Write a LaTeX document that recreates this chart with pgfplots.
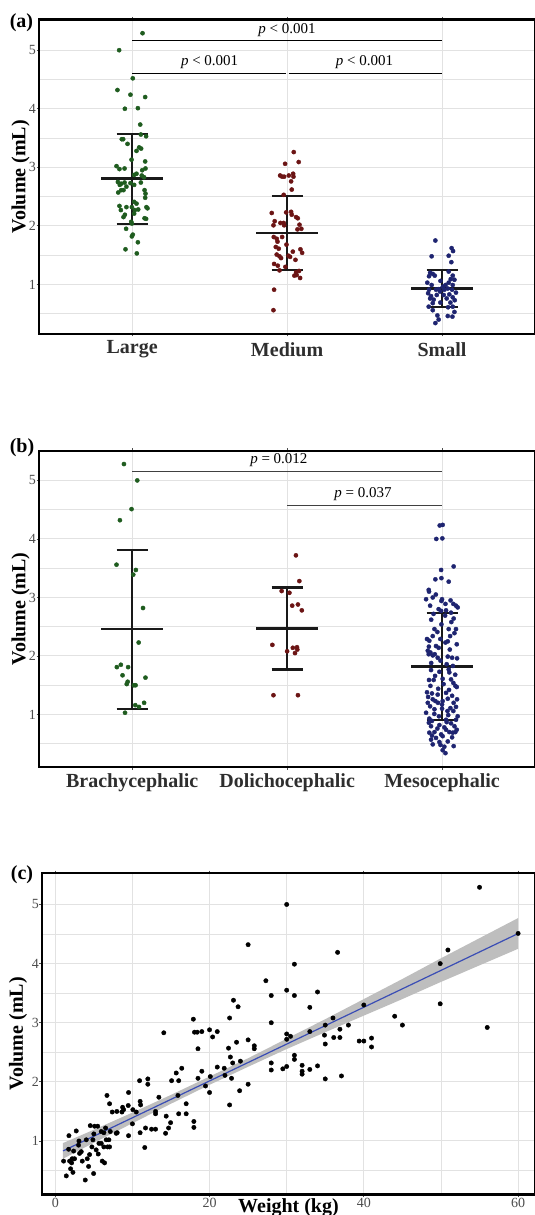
\documentclass[border=0pt]{standalone}
\usepackage{fontspec}
\setmainfont{Liberation Serif}
\usepackage{pgfplots}
\pgfplotsset{compat=1.18}

\definecolor{lgreen}{HTML}{1F5C1F}
\definecolor{mred}{HTML}{6B1414}
\definecolor{snavy}{HTML}{1E2470}
\definecolor{gridc}{HTML}{E2E2E2}
\definecolor{tickc}{HTML}{4D4D4D}
\definecolor{labc}{HTML}{2E2E2E}
\definecolor{fitblue}{HTML}{3A4DB5}
\definecolor{bandc}{HTML}{BEBEBE}

\newcommand\fs[1]{\fontsize{#1}{#1}\selectfont}

\pgfplotsset{
  vbase/.style={
    scale only axis, anchor=north west,
    axis line style={black, line width=2.4pt},
    grid=both,
    major grid style={gridc, line width=1pt},
    minor grid style={gridc, line width=0.8pt},
    tick style={tickc, line width=0.8pt},
    major tick length=2.5pt, minor tick length=0pt,
    tick align=outside,
    ytick={1,2,3,4,5},
    minor ytick={0.5,1.5,2.5,3.5,4.5},
    /pgf/number format/assume math mode=true,
    yticklabel style={font=\fs{14}, text=tickc, inner sep=0.5pt},
    ylabel={Volume (mL)},
    ylabel style={at={(axis description cs:0,0.5)}, anchor=center, yshift=18.7pt, font=\bfseries\fs{20}},
  },
  catstyle/.style={vbase, width=495.8pt, xmin=0.4, xmax=3.6, xtick={1,2,3},
    xticklabel style={font=\bfseries\fs{20}, text=labc, anchor=center, yshift=-13pt}},
  dots/.style={only marks, mark=*, mark size=2.1pt, color=#1},
  errb/.style={black!90, line width=2.2pt, unbounded coords=jump},
}

\begin{document}
\begin{tikzpicture}
\path[use as bounding box] (0,0) rectangle (535pt,-1215pt);

% ---------------- (a) size ----------------
\begin{axis}[catstyle, at={(39.2pt,-19.4pt)}, height=314.5pt,
  ymin=0.155, ymax=5.526, xticklabels={Large,Medium,Small}]
\addplot[dots=lgreen] coordinates {
(1.067,5.29) (0.916,5.00) (1.004,4.52) (0.905,4.32) (0.989,4.24) (1.084,4.20) (0.953,4.00) (1.037,4.01)
(1.052,3.73) (1.056,3.56) (1.090,3.53) (0.933,3.48) (0.942,3.48) (0.970,3.40) (1.045,3.34) (1.058,3.32)
(1.028,3.28) (0.996,3.13) (0.899,3.02) (0.918,2.97) (0.951,2.98) (1.084,3.10) (1.086,2.98) (1.065,2.95)
(1.028,2.89) (1.013,2.87) (1.062,2.86) (1.077,2.83) (0.908,2.75) (0.929,2.72) (0.951,2.74) (0.920,2.70)
(0.963,2.67) (0.989,2.73) (1.013,2.70) (1.056,2.74) (0.944,2.61) (0.910,2.57) (0.929,2.61) (1.080,2.61)
(1.086,2.55) (1.084,2.48) (1.013,2.41) (1.028,2.38) (0.918,2.34) (0.963,2.32) (0.998,2.32) (0.927,2.27)
(1.092,2.32) (1.099,2.30) (0.953,2.19) (0.944,2.15) (1.017,2.27) (1.039,2.28) (1.013,2.21) (1.080,2.13)
(1.090,2.12) (0.994,2.07) (0.998,2.04) (0.961,1.95) (1.004,1.85) (0.998,1.82) (1.037,1.72) (0.957,1.60)
(1.030,1.53)};
\addplot[dots=mred] coordinates {
(2.043,3.26) (2.075,3.09) (1.987,3.06) (1.955,2.86) (1.968,2.84) (1.981,2.84) (2.011,2.86) (2.039,2.89)
(2.041,2.84) (2.026,2.76) (2.030,2.62) (1.978,2.53) (1.901,2.22) (1.994,2.23) (2.026,2.24) (2.030,2.19)
(2.058,2.15) (2.069,2.13) (1.920,2.08) (1.912,2.01) (1.957,2.05) (1.978,2.05) (1.981,2.01) (2.080,2.02)
(2.067,1.94) (2.092,1.95) (1.914,1.81) (1.933,1.78) (1.968,1.81) (1.938,1.73) (1.996,1.68) (1.927,1.64)
(1.946,1.61) (2.086,1.60) (2.037,1.56) (2.097,1.54) (1.933,1.51) (1.951,1.48) (2.009,1.49) (1.961,1.45)
(2.019,1.47) (2.054,1.42) (1.916,1.35) (1.940,1.32) (1.989,1.30) (1.951,1.24) (2.077,1.23) (2.058,1.21)
(2.047,1.15) (2.062,1.16) (2.084,1.11) (1.916,0.91) (1.912,0.56)};
\addplot[dots=snavy] coordinates {
(2.957,1.75) (3.062,1.62) (3.071,1.57) (2.933,1.48) (3.043,1.49) (3.060,1.38) (2.923,1.20) (2.940,1.18)
(2.916,1.14) (2.953,1.15) (3.043,1.22) (3.069,1.15) (3.056,1.09) (3.080,1.08) (2.933,0.99) (3.022,0.99)
(3.043,1.03) (3.069,0.99) (2.916,0.91) (2.961,0.91) (2.978,0.92) (2.987,0.88) (3.015,0.91) (3.037,0.93)
(3.065,0.91) (2.910,0.85) (2.929,0.80) (2.966,0.82) (3.011,0.82) (3.047,0.83) (2.923,0.76) (2.946,0.74)
(3.030,0.76) (3.069,0.78) (3.082,0.73) (2.940,0.68) (2.989,0.69) (3.054,0.69) (2.914,0.62) (3.039,0.61)
(3.069,0.62) (3.080,0.53) (2.970,0.47) (3.037,0.46) (3.067,0.45) (2.978,0.40) (2.957,0.34) (2.905,1.03)
(2.990,1.06) (3.090,0.86) (2.940,0.56) (3.005,0.96)};
% mean and SD bars
\addplot[errb] table {
x y
0.8 2.81
1.2 2.81
nan nan
0.9 3.57
1.1 3.57
nan nan
0.9 2.03
1.1 2.03
nan nan
1 2.03
1 3.57
nan nan
1.8 1.88
2.2 1.88
nan nan
1.9 2.51
2.1 2.51
nan nan
1.9 1.25
2.1 1.25
nan nan
2 1.25
2 2.51
nan nan
2.8 0.93
3.2 0.93
nan nan
2.9 1.25
3.1 1.25
nan nan
2.9 0.61
3.1 0.61
nan nan
3 0.61
3 1.25
};
% significance brackets
\addplot[black, line width=1.4pt] coordinates {(1,5.17) (3,5.17)};
\addplot[black, line width=1.4pt] coordinates {(1,4.60) (1.99,4.60)};
\addplot[black, line width=1.4pt] coordinates {(2.01,4.60) (3,4.60)};
\node[font=\fs{15}] at (axis cs:2,5.345) {\textit{p} < 0.001};
\node[font=\fs{15}] at (axis cs:1.5,4.80) {\textit{p} < 0.001};
\node[font=\fs{15}] at (axis cs:2.5,4.80) {\textit{p} < 0.001};
\end{axis}

% ---------------- (b) head shape ----------------
\begin{axis}[catstyle, at={(39.2pt,-450.8pt)}, height=316.2pt,
  ymin=0.103, ymax=5.506, xticklabels={Brachycephalic,Dolichocephalic,Mesocephalic}]
\addplot[dots=lgreen] coordinates {
(0.947,5.28) (1.033,5.00) (0.996,4.51) (0.921,4.32) (0.899,3.56) (1.024,3.47) (1.007,3.39) (1.070,2.82)
(1.042,2.23) (0.901,1.81) (0.927,1.85) (0.974,1.81) (0.938,1.67) (1.086,1.63) (0.971,1.56) (0.965,1.52)
(1.011,1.50) (1.022,1.50) (1.020,1.16) (1.077,1.20) (1.044,1.13) (0.954,1.03)};
\addplot[dots=mred] coordinates {
(2.057,3.72) (2.079,3.28) (1.965,3.11) (2.015,3.08) (2.033,2.86) (2.070,2.88) (2.095,2.78) (1.905,2.19)
(2.000,2.08) (2.037,2.14) (2.064,2.15) (2.066,2.11) (2.051,2.05) (1.912,1.33) (2.070,1.33)};
\addplot[dots=snavy] coordinates {
(2.985,4.23) (3.004,4.24) (2.963,4.00) (3.002,4.01) (3.075,3.53) (2.994,3.47) (2.957,3.31) (2.996,3.33)
(3.043,3.27) (2.914,3.13) (2.916,3.10) (2.897,2.97) (2.940,3.00) (3.000,2.97) (2.996,2.94) (3.022,2.89)
(3.073,2.89) (3.090,2.86) (3.101,2.83) (2.923,2.86) (2.978,2.80) (2.994,2.77) (3.026,2.78) (3.058,2.74)
(3.075,2.64) (2.951,2.46) (2.996,2.54) (3.043,2.46) (2.940,2.34) (3.052,2.34) (2.903,2.29) (2.918,2.26)
(2.989,2.29) (3.022,2.23) (3.037,2.25) (3.095,2.20) (2.961,2.17) (2.978,2.14) (2.908,2.09) (2.925,2.06)
(2.940,2.01) (2.953,2.03) (2.972,1.97) (3.037,1.99) (3.065,1.97) (3.097,1.96) (2.929,1.76) (3.043,1.77)
(2.983,1.73) (3.047,1.72) (2.916,1.59) (2.946,1.59) (3.004,1.61) (3.058,1.60) (3.073,1.54) (2.903,1.38)
(2.935,1.36) (2.972,1.34) (3.026,1.37) (3.086,1.49) (3.095,1.47) (2.940,1.26) (2.957,1.23) (2.974,1.20)
(3.004,1.23) (3.037,1.27) (3.075,1.20) (3.097,1.26) (2.923,1.14) (2.951,1.09) (3.000,1.10) (3.054,1.11)
(3.073,1.06) (2.918,0.93) (2.935,0.89) (3.026,0.91) (3.090,0.91) (2.929,0.80) (2.983,0.82) (3.058,0.85)
(3.080,0.80) (3.095,0.74) (2.918,0.69) (2.951,0.70) (2.994,0.66) (3.047,0.70) (3.069,0.69) (3.086,0.70)
(2.929,0.57) (2.961,0.60) (3.004,0.63) (3.037,0.54) (3.075,0.46) (2.940,0.49) (3.015,0.45) (3.004,0.39)
(3.022,0.34) (2.983,0.53) (3.026,0.74) (2.908,1.20) (2.897,1.03) (3.101,0.97) (2.914,2.03) (3.090,2.46)
(2.930,2.62) (3.060,2.58) (2.970,2.41) (3.080,2.39) (2.915,2.16) (3.050,2.11) (2.990,1.92) (3.030,1.86)
(2.930,1.88) (3.070,1.83) (2.955,1.66) (3.085,1.68) (3.010,1.52) (2.925,1.49) (3.045,1.42) (2.975,1.44)
(2.910,1.30) (3.065,1.32) (3.000,1.17) (2.950,1.01) (3.040,0.99) (2.915,0.86) (3.030,0.87) (2.970,0.76)
(3.065,0.61) (2.935,0.64) (3.015,0.78) (2.980,0.97) (3.090,1.13) (2.945,2.72) (3.020,2.69) (3.055,2.95)
(2.960,3.05) (3.035,1.06) (2.990,0.48)};
\addplot[errb] table {
x y
0.8 2.46
1.2 2.46
nan nan
0.9 3.81
1.1 3.81
nan nan
0.9 1.09
1.1 1.09
nan nan
1 1.09
1 3.81
nan nan
1.8 2.47
2.2 2.47
nan nan
1.9 3.17
2.1 3.17
nan nan
1.9 1.77
2.1 1.77
nan nan
2 1.77
2 3.17
nan nan
2.8 1.82
3.2 1.82
nan nan
2.9 2.74
3.1 2.74
nan nan
2.9 0.91
3.1 0.91
nan nan
3 0.91
3 2.74
};
\addplot[black!75, line width=1.4pt] coordinates {(1,5.157) (3,5.157)};
\addplot[black!75, line width=1.4pt] coordinates {(2,4.573) (3,4.573)};
\node[font=\fs{15}] at (axis cs:1.947,5.34) {\textit{p} = 0.012};
\node[font=\fs{15}] at (axis cs:2.49,4.766) {\textit{p} = 0.037};
\end{axis}

% ---------------- (c) weight ----------------
\begin{axis}[vbase, at={(42pt,-873.1pt)}, width=493pt, height=321.4pt,
  xmin=-1.72, xmax=62.19, ymin=0.095, ymax=5.53,
  xtick={0,20,40,60}, minor xtick={10,30,50},
  xticklabel style={font=\fs{14}, text=tickc, inner sep=1pt},
  ylabel style={yshift=5.3pt},
  xlabel={Weight (kg)},
  xlabel style={at={(axis description cs:0.5,0)}, anchor=center, yshift=-13.5pt, font=\bfseries\fs{20}}]
\addplot[fill=bandc, draw=none] coordinates {
(1,0.965) (5,1.19) (10,1.48) (15,1.78) (20,2.09) (25,2.40) (30,2.73) (35,3.06) (40,3.40) (45,3.74)
(50,4.09) (55,4.43) (60,4.77)
(60,4.25) (55,3.97) (50,3.69) (45,3.40) (40,3.12) (35,2.84) (30,2.555) (25,2.255) (20,1.95) (15,1.63)
(10,1.30) (5,0.97) (1,0.70)};
\addplot[only marks, mark=*, mark size=2.2pt, black] coordinates {
(1.08,0.66) (1.43,0.41) (1.77,1.09) (1.73,0.86) (1.86,0.66) (1.99,0.53) (2.12,0.63) (2.29,0.47)
(2.20,0.70) (2.38,0.83) (2.50,0.70) (2.72,1.17) (3.07,1.00) (3.02,0.93) (3.15,0.79) (3.37,0.82)
(3.50,0.66) (3.89,0.34) (4.02,1.02) (4.15,0.70) (4.32,0.57) (4.45,0.77) (4.54,1.26) (4.75,0.90)
(4.88,1.02) (4.97,0.45) (5.10,1.25) (5.00,1.12) (5.30,0.85) (5.50,1.25) (5.57,0.78) (5.66,0.96)
(5.96,1.16) (5.96,0.96) (6.09,0.66) (6.30,0.90) (6.39,0.63) (6.30,1.14) (6.52,1.22) (6.60,1.02)
(6.70,1.77) (6.78,0.90) (7.04,1.63) (6.95,1.02) (7.04,0.90) (7.13,1.16) (7.39,1.49) (7.90,1.13)
(8.03,1.14) (7.99,1.50) (8.64,1.49) (8.73,1.57) (8.86,1.53) (9.50,1.82) (9.46,1.60) (9.50,1.09)
(10.00,1.29) (10.06,1.53) (10.50,1.49) (10.93,2.02) (11.00,1.67) (11.06,1.61) (11.00,1.14) (11.60,0.89)
(11.70,1.22) (12.00,2.05) (12.00,1.96) (12.48,1.20) (13.00,1.20) (13.00,1.50) (13.00,1.46) (13.43,1.74)
(14.30,1.13) (14.38,1.42) (14.69,1.22) (14.95,1.31) (15.08,2.02) (15.68,2.15) (15.90,1.77) (16.00,2.02)
(16.00,1.46) (16.40,2.23) (16.97,1.46) (16.97,1.63) (17.97,1.33) (17.97,1.23) (18.50,2.56) (18.50,2.06)
(19.00,2.18) (19.48,1.93) (20.00,1.82) (20.10,2.09) (21.00,2.25) (21.90,2.23) (22.00,2.11) (22.46,2.57)
(22.60,1.61) (22.70,2.42) (22.85,2.06) (23.00,2.32) (23.50,2.67) (23.90,1.85) (24.00,2.35) (25.00,1.96)
(25.80,2.61) (25.80,2.56)
(14.07,2.83) (17.90,3.06) (18.05,2.84) (18.40,2.84) (19.00,2.85) (20.00,2.88) (20.40,2.76) (21.00,2.85)
(22.60,3.08) (25.00,2.71) (28.00,3.00) (28.00,2.32) (28.00,2.20) (29.50,2.22) (30.00,2.81) (30.00,2.72)
(30.50,2.77) (30.00,2.26) (31.00,2.45) (31.00,2.38) (32.00,2.28) (32.00,2.18) (32.00,2.13) (33.00,2.85)
(33.00,2.21) (34.00,2.27) (35.00,2.96) (34.90,2.79) (35.00,2.64) (35.00,2.05) (36.00,3.08) (36.10,2.75)
(36.90,2.89) (36.90,2.75) (37.10,2.10) (38.00,2.96) (39.40,2.69) (40.00,2.69) (41.00,2.74) (41.00,2.59)
(44.00,3.11) (45.00,2.96) (56.00,2.92)
(30.00,5.00) (25.00,4.32) (31.00,3.99) (36.60,4.19) (27.30,3.71) (30.00,3.55) (28.00,3.46) (31.00,3.46)
(34.00,3.52) (23.10,3.38) (23.70,3.27) (33.00,3.26) (40.00,3.30) (49.90,4.00) (49.90,3.32) (50.90,4.23)
(55.00,5.29) (60.00,4.51)};
\addplot[fitblue, line width=1.2pt] coordinates {(1,0.832) (60,4.508)};
\end{axis}

\node[font=\bfseries\fs{20}] at (21.5pt,-22.2pt) {(a)};
\node[font=\bfseries\fs{20}] at (22pt,-448pt) {(b)};
\node[font=\bfseries\fs{20}] at (22pt,-874.8pt) {(c)};
\end{tikzpicture}
\end{document}
